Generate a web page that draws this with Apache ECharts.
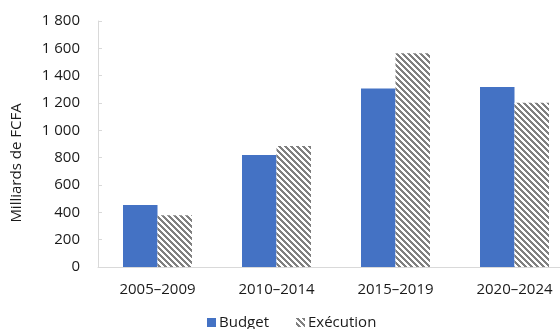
<!DOCTYPE html>
<html>
<head>
<meta charset="utf-8">
<script src="https://cdn.jsdelivr.net/npm/echarts@6/dist/echarts.min.js"></script>
<style>
  html, body { margin: 0; padding: 0; background: #fff; overflow: hidden; }
  #chart { width: 580px; height: 329px; }
</style>
</head>
<body>
<div id="chart"></div>
<script>
// Périodes quinquennales et montants (milliards de FCFA)
const periods = ['2005–2009', '2010–2014', '2015–2019', '2020–2024'];
const budget = [454, 820, 1307, 1317];
const execution = [378, 885, 1564, 1202];
const yTicks = [0, 200, 400, 600, 800, 1000, 1200, 1400, 1600, 1800];

// Hachures diagonales grises pour la série « Exécution »
function hatch() {
  const n = 6;
  const c = document.createElement('canvas');
  c.width = n; c.height = n;
  const ctx = c.getContext('2d');
  const img = ctx.createImageData(n, n);
  for (let y = 0; y < n; y++) {
    for (let x = 0; x < n; x++) {
      const on = (((x - y) % n) + n) % n < 3;
      const i = (y * n + x) * 4;
      const v = on ? 128 : 255;
      img.data[i] = v; img.data[i + 1] = v; img.data[i + 2] = v; img.data[i + 3] = 255;
    }
  }
  ctx.putImageData(img, 0, 0);
  return c;
}

const fmt = v => String(v).replace(/\B(?=(\d{3})+(?!\d))/g, ' ');
const font = '"Open Sans", "Liberation Sans", sans-serif';
const ink = '#1a1a1a';

// The plot area runs past the right edge of the visible frame
const chart = echarts.init(document.getElementById('chart'), null, { renderer: 'canvas' });
chart.setOption({
  animation: false,
  textStyle: { fontFamily: font },
  grid: { left: 98, top: 21, right: 6, bottom: 62, containLabel: false },
  graphic: [{
    type: 'text',
    x: 17, y: 163,
    rotation: Math.PI / 2,
    style: {
      text: 'Milliards de FCFA',
      font: '15px ' + font,
      fill: ink,
      align: 'center',
      verticalAlign: 'middle'
    }
  }],
  legend: {
    left: 202, top: 310,
    itemWidth: 9, itemHeight: 9, itemGap: 27,
    icon: 'rect',
    textStyle: { fontSize: 15, color: ink, fontFamily: font, padding: [0, 0, 0, -2] },
    data: ['Budget', 'Exécution']
  },
  xAxis: {
    type: 'category',
    data: periods,
    axisLine: { lineStyle: { color: '#d9d9d9', width: 1 } },
    axisTick: { inside: true, length: 4, lineStyle: { color: '#d9d9d9' } },
    axisLabel: { fontSize: 15, color: ink, margin: 15, fontFamily: font }
  },
  yAxis: {
    type: 'value',
    min: yTicks[0], max: yTicks[yTicks.length - 1], interval: 200,
    axisLine: { show: true, lineStyle: { color: '#d9d9d9', width: 1 } },
    axisTick: { show: true, inside: true, length: 4, lineStyle: { color: '#d9d9d9' } },
    splitLine: { show: false },
    axisLabel: { fontSize: 15, color: ink, margin: 18, fontFamily: font, formatter: fmt }
  },
  series: [
    {
      name: 'Budget', type: 'bar', data: budget,
      barWidth: 34.5, barGap: '0%',
      itemStyle: { color: '#4472C4' }
    },
    {
      name: 'Exécution', type: 'bar', data: execution,
      barWidth: 34.5, barGap: '0%',
      itemStyle: { color: { image: hatch(), repeat: 'repeat' } }
    }
  ]
});
</script>
</body>
</html>
